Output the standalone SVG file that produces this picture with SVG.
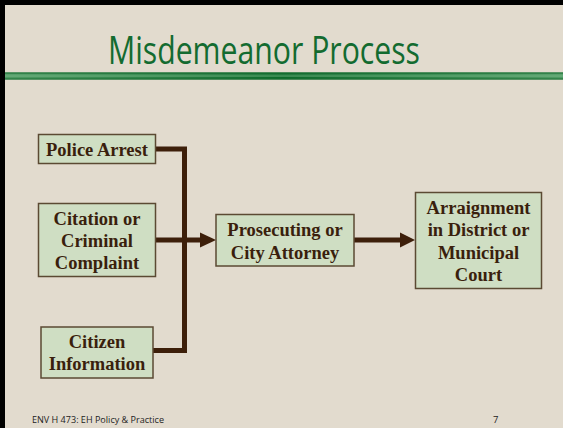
<svg xmlns="http://www.w3.org/2000/svg" width="563" height="428" viewBox="0 0 563 428">
  <defs>
    <linearGradient id="bar" x1="0" y1="0" x2="1" y2="0">
      <stop offset="0" stop-color="#4f9a63"/>
      <stop offset="0.5" stop-color="#0c6a2a"/>
      <stop offset="1" stop-color="#4f9a63"/>
    </linearGradient>
    <style>
      .box { fill: #cfdec3; stroke: #5b4a33; stroke-width: 1.5; }
      .lbl { font-family: "Liberation Serif", "Times New Roman", serif; font-weight: bold; font-size: 18.5px; fill: #3a1f0d; text-anchor: middle; }
      .wire { fill: none; stroke: #3d1f0a; stroke-width: 5; stroke-linejoin: miter; }
      .head { fill: #3d1f0a; }
    </style>
  </defs>
  <rect x="0" y="0" width="563" height="428" fill="#000"/>
  <rect x="5" y="5" width="558" height="423" fill="#e2dbce"/>
  <text x="264" y="64" font-family="'Open Sans', 'DejaVu Sans', sans-serif" font-size="38" fill="#136b30" text-anchor="middle" textLength="312" lengthAdjust="spacingAndGlyphs">Misdemeanor Process</text>
  <rect x="5" y="72.5" width="558" height="7" fill="url(#bar)"/>
  <rect x="5" y="74.5" width="558" height="2.5" fill="#8cc59a" opacity="0.35"/>
  <line x1="5" y1="73" x2="563" y2="73" stroke="#1a6f35" stroke-width="1"/>
  <line x1="5" y1="79" x2="563" y2="79" stroke="#1a6f35" stroke-width="1"/>

  <g id="connectors">
    <path class="wire" d="M155,149 H184.5 V350.5 H153"/>
    <path class="wire" d="M155,240 H200"/>
    <path class="head" d="M200,232.5 L216,240 L200,247.5 Z"/>
    <path class="wire" d="M354,240 H400"/>
    <path class="head" d="M400,232.5 L415,240 L400,247.5 Z"/>
  </g>

  <g id="police-arrest">
    <rect class="box" x="38.5" y="134.5" width="117" height="29"/>
    <text class="lbl" x="97" y="155.5">Police Arrest</text>
  </g>
  <g id="citation">
    <rect class="box" x="38.5" y="203.5" width="117" height="73"/>
    <text class="lbl" x="97" y="225">Citation or</text>
    <text class="lbl" x="97" y="247">Criminal</text>
    <text class="lbl" x="97" y="269">Complaint</text>
  </g>
  <g id="citizen-information">
    <rect class="box" x="41" y="327" width="112" height="51"/>
    <text class="lbl" x="97" y="348">Citizen</text>
    <text class="lbl" x="97" y="370">Information</text>
  </g>
  <g id="prosecuting">
    <rect class="box" x="216" y="214.5" width="138" height="51.5"/>
    <text class="lbl" x="285" y="235.5">Prosecuting or</text>
    <text class="lbl" x="285" y="258.5">City Attorney</text>
  </g>
  <g id="arraignment">
    <rect class="box" x="415.5" y="192.5" width="126" height="96"/>
    <text class="lbl" x="478.5" y="213.5">Arraignment</text>
    <text class="lbl" x="478.5" y="236">in District or</text>
    <text class="lbl" x="478.5" y="258.5">Municipal</text>
    <text class="lbl" x="478.5" y="281">Court</text>
  </g>

  <text x="32" y="423" font-family="'Open Sans', 'DejaVu Sans', sans-serif" font-size="9.5" fill="#222" textLength="132" lengthAdjust="spacingAndGlyphs">ENV H 473: EH Policy &amp; Practice</text>
  <text x="493" y="423" font-family="'Open Sans', 'DejaVu Sans', sans-serif" font-size="9.5" fill="#222">7</text>
</svg>
